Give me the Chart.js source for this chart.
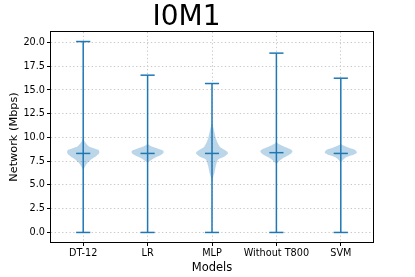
<!DOCTYPE html>
<html>
<head>
<meta charset="utf-8">
<script src="https://cdn.jsdelivr.net/npm/chart.js@4"></script>
<style>
html,body{margin:0;padding:0;background:#fff;}
#wrap{width:415px;height:277px;position:relative;}
</style>
</head>
<body>
<div id="wrap"><canvas id="c" width="415" height="277"></canvas></div>
<script>
const titleText = 'I0M1';
const categories = ['DT-12', 'LR', 'MLP', 'Without T800', 'SVM'];
const minValues = [0, 0, 0, 0, 0];
const maxValues = [20.1, 16.56, 15.68, 18.88, 16.24];
const medianValues = [8.32, 8.32, 8.32, 8.4, 8.32];
const yTickValues = [0, 2.5, 5, 7.5, 10, 12.5, 15, 17.5, 20];

// density profiles: value levels and relative half-widths
const violinLevels = [
  [6.6, 6.95, 7.3, 7.66, 8.0, 8.2, 8.4, 8.55, 8.7, 8.9, 9.06, 9.4, 9.7, 10.1],
  [7.3, 7.45, 7.66, 7.94, 8.18, 8.35, 8.47, 8.6, 8.7, 8.9, 9.06, 9.2, 9.4],
  [5.3, 5.7, 6.25, 6.95, 7.66, 8.0, 8.2, 8.36, 8.5, 8.7, 9.06, 9.8, 10.5, 11.2, 11.6],
  [7.2, 7.48, 7.83, 8.18, 8.35, 8.53, 8.7, 8.89, 9.13, 9.4, 9.6],
  [7.4, 7.66, 7.94, 8.18, 8.3, 8.43, 8.55, 8.71, 8.89, 9.06, 9.2, 9.35]
];
const violinWidths = [
  [0, 0.12, 0.26, 0.47, 0.78, 0.92, 1.0, 0.99, 0.94, 0.62, 0.36, 0.17, 0.05, 0],
  [0, 0.08, 0.25, 0.55, 0.85, 0.97, 1.0, 0.97, 0.85, 0.55, 0.25, 0.08, 0],
  [0, 0.05, 0.15, 0.23, 0.37, 0.78, 0.93, 1.0, 0.95, 0.78, 0.47, 0.26, 0.16, 0.06, 0],
  [0, 0.16, 0.42, 0.8, 0.93, 1.0, 0.92, 0.7, 0.36, 0.08, 0],
  [0, 0.15, 0.36, 0.8, 0.93, 1.0, 0.97, 0.87, 0.56, 0.3, 0.1, 0]
];

const BLUE = '#1f77b4';
const FILL = 'rgba(31,119,180,0.3)';
const VIOLIN_HALF = 0.25;
const CAP_HALF = 0.11;
const FONT = 'DejaVu Sans';

const datasets = [];
categories.forEach((name, i) => {
  const pos = i + 1;
  const lineBase = {type: 'scatter', showLine: true, borderColor: BLUE, borderWidth: 1.5,
    pointRadius: 0, fill: false, order: 0, borderCapStyle: 'butt'};
  datasets.push(Object.assign({}, lineBase, {data: [{x: pos, y: minValues[i]}, {x: pos, y: maxValues[i]}]}));
  datasets.push(Object.assign({}, lineBase, {data: [{x: pos - CAP_HALF, y: maxValues[i]}, {x: pos + CAP_HALF, y: maxValues[i]}]}));
  datasets.push(Object.assign({}, lineBase, {data: [{x: pos - CAP_HALF, y: minValues[i]}, {x: pos + CAP_HALF, y: minValues[i]}]}));
  datasets.push(Object.assign({}, lineBase, {data: [{x: pos - CAP_HALF, y: medianValues[i]}, {x: pos + CAP_HALF, y: medianValues[i]}]}));
  const lv = violinLevels[i], wd = violinWidths[i];
  const pts = [];
  for (let k = 0; k < lv.length; k++) pts.push({x: pos + VIOLIN_HALF * wd[k], y: lv[k]});
  for (let k = lv.length - 1; k >= 0; k--) pts.push({x: pos - VIOLIN_HALF * wd[k], y: lv[k]});
  datasets.push({type: 'scatter', showLine: true, data: pts, borderWidth: 0, borderColor: 'rgba(0,0,0,0)',
    backgroundColor: FILL, fill: 'shape', pointRadius: 0, tension: 0.25, order: 1});
});

const framePlugin = {
  id: 'frame',
  afterDatasetsDraw(chart) {
    const {ctx, chartArea: a} = chart;
    ctx.save();
    ctx.strokeStyle = '#000';
    ctx.lineWidth = 1;
    ctx.strokeRect(Math.round(a.left) - 0.5, Math.round(a.top) - 0.5, Math.round(a.right - a.left) + 1, Math.round(a.bottom - a.top) + 1);
    ctx.restore();
  }
};

new Chart(document.getElementById('c'), {
  type: 'scatter',
  data: {datasets},
  plugins: [framePlugin],
  options: {
    responsive: false,
    animation: false,
    layout: {padding: {left: 0, right: 42, top: 0, bottom: 0}},
    plugins: {
      legend: {display: false},
      tooltip: {enabled: false},
      title: {display: true, text: titleText, color: '#000',
        font: {family: FONT, size: 28, weight: 'normal', lineHeight: 1}, padding: {top: 4, bottom: 0}}
    },
    scales: {
      x: {
        type: 'linear', min: 0.5, max: 5.5,
        afterBuildTicks: s => { s.ticks = categories.map((c, i) => ({value: i + 1})); },
        afterFit: s => { s.height = 35; },
        ticks: {callback: v => categories[v - 1], color: '#000', padding: 2, maxRotation: 0, autoSkip: false,
          font: {family: FONT, size: 9.7}},
        grid: {color: '#c8c8c8', lineWidth: 1, drawTicks: true, tickLength: 4, tickColor: '#000', tickWidth: 1},
        border: {display: false, dash: [1.3, 2.4]},
        title: {display: true, text: 'Models', color: '#000', font: {family: FONT, size: 11.5}, padding: {top: 0, bottom: 2}}
      },
      y: {
        type: 'linear', min: -1.005, max: 21.105,
        afterBuildTicks: s => { s.ticks = yTickValues.map(v => ({value: v})); },
        afterFit: s => { s.width = 51; },
        ticks: {callback: v => v.toFixed(1), color: '#000', padding: 2, font: {family: FONT, size: 9.7}},
        grid: {color: '#c8c8c8', lineWidth: 1, drawTicks: true, tickLength: 4, tickColor: '#000', tickWidth: 1},
        border: {display: false, dash: [1.3, 2.4]},
        title: {display: true, text: 'Network (Mbps)', color: '#000', font: {family: FONT, size: 11.3}, padding: {top: 7, bottom: 0}}
      }
    }
  }
});
</script>
</body>
</html>
